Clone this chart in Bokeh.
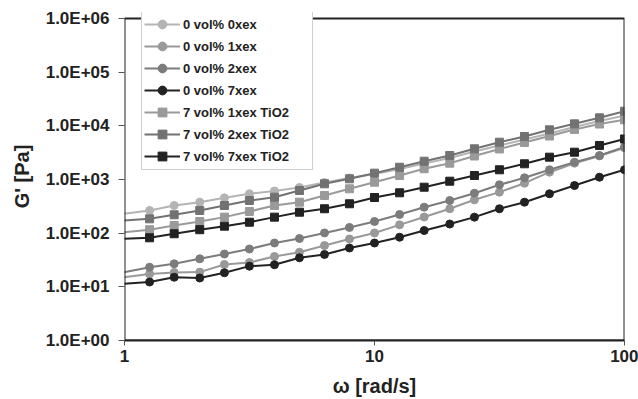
from bokeh.plotting import figure
from bokeh.models import FixedTicker, Legend, LegendItem, BoxAnnotation
from bokeh.embed import file_html
from bokeh.resources import INLINE

# angular frequency [rad/s]
omega = [0.794, 1.26, 1.58, 2.0, 2.51, 3.16, 3.98, 5.01, 6.31, 7.94, 10.0,
         12.6, 15.8, 20.0, 25.1, 31.6, 39.8, 50.1, 63.1, 79.4, 100.0]

# G' [Pa]
g_0vol_0xex = [199, 265, 328, 378, 456, 542, 611, 710, 879, 1067, 1268,
               1570, 1987, 2518, 3327, 4305, 5572, 7194, 9506, 12300, 15600]
g_0vol_1xex = [13.2, 17.4, 18.5, 18.8, 26.1, 28.4, 36.8, 44.2, 58.9, 78, 101,
               143, 200, 285, 419, 581, 853, 1368, 2014, 2750, 3900]
g_0vol_2xex = [15.1, 23.2, 26.9, 33.3, 40.9, 50.7, 65.6, 79.6, 101, 128, 165,
               223, 305, 406, 556, 796, 1076, 1517, 2104, 2800, 4050]
g_0vol_7xex = [10.6, 12.3, 15.1, 14.6, 18.3, 24.3, 25.8, 34.8, 40.1, 52.9, 65.6,
               84.1, 112, 148, 199, 285, 378, 542, 773, 1104, 1517]
g_7vol_1xex = [94, 116, 139, 165, 199, 254, 328, 378, 504, 671, 891,
               1188, 1585, 2014, 2742, 3704, 4893, 6468, 8551, 10800, 12970]
g_7vol_2xex = [160, 185, 220, 265, 328, 406, 468, 624, 832, 1030, 1312,
               1694, 2193, 2801, 3733, 4955, 6324, 8437, 10900, 14100, 18700]
g_7vol_7xex = [75, 82, 97.5, 116, 135, 160, 199, 246, 285, 353, 462,
               565, 719, 930, 1188, 1517, 1963, 2606, 3228, 4305, 5689]

series_names = ["0 vol% 0xex", "0 vol% 1xex", "0 vol% 2xex", "0 vol% 7xex",
                "7 vol% 1xex TiO2", "7 vol% 2xex TiO2", "7 vol% 7xex TiO2"]
series_values = [g_0vol_0xex, g_0vol_1xex, g_0vol_2xex, g_0vol_7xex,
                 g_7vol_1xex, g_7vol_2xex, g_7vol_7xex]
series_colors = ["#b4b4b4", "#999999", "#7c7c7c", "#222222",
                 "#9a9a9a", "#727272", "#222222"]
series_markers = ["circle", "circle", "circle", "circle",
                  "square", "square", "square"]

y_ticks = [1, 10, 100, 1000, 10000, 100000, 1000000]
y_tick_labels = ["1.0E+00", "1.0E+01", "1.0E+02", "1.0E+03",
                 "1.0E+04", "1.0E+05", "1.0E+06"]
x_ticks = [1, 10, 100]
x_tick_labels = ["1", "10", "100"]

# axis extents (the plot box spans x 1..100, y 1..1e6)
x_min, x_max = 1, 100
y_min, y_max = 1, 1e6

FONT = "Liberation Sans"

# a little headroom above 1e6 so the legend (which overhangs the box top) is not clipped
p = figure(width=638, height=399, x_axis_type="log", y_axis_type="log",
           x_range=(x_min, x_max), y_range=(y_min, y_max * 1.294),
           output_backend="svg", toolbar_location=None,
           min_border_left=124, min_border_right=14,
           min_border_top=12, min_border_bottom=59)

p.grid.visible = False
p.background_fill_color = "white"
p.border_fill_color = "white"
p.outline_line_color = None

items = []
for name, vals, col, mk in zip(series_names, series_values, series_colors, series_markers):
    r1 = p.line(omega, vals, line_color=col, line_width=2)
    r2 = p.scatter(omega, vals, marker=mk, size=8, fill_color=col, line_color=col)
    items.append(LegendItem(label=name, renderers=[r1, r2]))

# plot box (top/right/left edges) at the data extent
frame_box = BoxAnnotation(left=x_min, right=x_max, bottom=y_min, top=y_max,
                          fill_alpha=0, line_color="#222222", line_width=2,
                          line_alpha=1)
p.add_layout(frame_box)

legend = Legend(items=items, location=(17, 170), margin=0, padding=2,
                spacing=0, label_height=22, glyph_height=22, glyph_width=36,
                label_standoff=3, label_width=127,
                label_text_font=FONT, label_text_font_style="bold",
                label_text_font_size="13px", label_text_color="#222222",
                border_line_color="#a0a0a0", border_line_width=1,
                background_fill_color="white", background_fill_alpha=1.0)
p.add_layout(legend, "center")

for ax, ticks, labels in ((p.yaxis[0], y_ticks, y_tick_labels),
                          (p.xaxis[0], x_ticks, x_tick_labels)):
    ax.ticker = FixedTicker(ticks=ticks, minor_ticks=[])
    ax.major_label_overrides = dict(zip(ticks, labels))
    ax.axis_line_color = "#222222"
    ax.axis_line_width = 2
    ax.major_tick_line_color = "#555555"
    ax.major_tick_line_width = 1
    ax.minor_tick_line_color = None
    ax.major_tick_in = 0
    ax.major_label_text_font = FONT
    ax.major_label_text_font_style = "bold"
    ax.major_label_text_font_size = "17px"
    ax.major_label_text_color = "#222222"
    ax.axis_label_text_font = FONT
    ax.axis_label_text_font_style = "bold"
    ax.axis_label_text_font_size = "20px"
    ax.axis_label_text_color = "#222222"

p.yaxis.axis_line_color = None
p.yaxis.axis_label = "G' [Pa]"
p.yaxis.major_tick_out = 6
p.yaxis.major_label_standoff = 9
p.yaxis.axis_label_standoff = 10

p.xaxis.axis_label = "ω [rad/s]"
p.xaxis.major_tick_out = 5
p.xaxis.major_label_standoff = 4
p.xaxis.axis_label_standoff = 10

open("out.html", "w").write(file_html(p, INLINE))
